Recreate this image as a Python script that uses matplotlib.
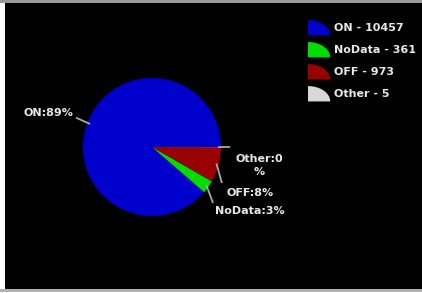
import numpy as np
import matplotlib
matplotlib.use("Agg")
import matplotlib.pyplot as plt
import matplotlib.patches as mpatches
from matplotlib.legend_handler import HandlerPatch

# ---- data ----
categories = ["ON", "NoData", "OFF", "Other"]
counts = [10457, 361, 973, 5]
colors = ["#0000CC", "#00DD00", "#990000", "#D8D8D8"]

# ---- layout (data coords of pie, radius 1) ----
line_ends = [(-1.09, 0.42), (0.88, -0.80), (1.01, -0.51), (1.12, 0.0)]
text_pos = [(-1.50, 0.49), (1.42, -0.93), (1.42, -0.67), (1.55, -0.27)]

W, H = 422, 293
fig = plt.figure(figsize=(W / 100, H / 100), dpi=100, facecolor="white")

# black background panel
bg = fig.add_axes([5 / W, 4 / H, 417 / W, 286 / H])
bg.set_facecolor("black")
bg.set_xticks([]); bg.set_yticks([])
for s in bg.spines.values():
    s.set_visible(False)
# thin gray strips top/bottom
fig.patches.append(mpatches.Rectangle((0, 1 - 3 / H), 1, 3 / H, transform=fig.transFigure,
                                      facecolor="#9a9a9a", edgecolor="none"))
fig.patches.append(mpatches.Rectangle((0, 1 / H), 1, 3 / H, transform=fig.transFigure,
                                      facecolor="#b0b0b0", edgecolor="none"))

# pie axes
cx, cy, r = 152, 147, 69
ax = fig.add_axes([(cx - r) / W, 1 - (cy + r) / H, 2 * r / W, 2 * r / H])
ax.set_facecolor("none")
wedges, _ = ax.pie(counts, colors=colors, startangle=0, counterclock=True,
                   wedgeprops=dict(linewidth=0))
ax.set_xlim(-1, 1); ax.set_ylim(-1, 1)
ax.set_aspect("equal")
ax.axis("off")

total = sum(counts)
for i, w in enumerate(wedges):
    mid = np.deg2rad((w.theta1 + w.theta2) / 2)
    x0, y0 = 0.97 * np.cos(mid), 0.97 * np.sin(mid)
    xe, ye = line_ends[i]
    ax.plot([x0, xe], [y0, ye], color="#A8A8A8", lw=1.3, clip_on=False)
    pct = round(100 * counts[i] / total)
    lab = f"{categories[i]}:{pct}%"
    if categories[i] == "Other":
        lab = f"{categories[i]}:{pct}\n%"
    tx, ty = text_pos[i]
    ax.text(tx, ty, lab, color="#E8E8E8", fontsize=8, fontweight="bold",
            ha="center", va="center", clip_on=False, linespacing=1.4)


class QuarterHandler(HandlerPatch):
    def create_artists(self, legend, orig_handle, xdescent, ydescent, width, height,
                       fontsize, trans):
        t = np.linspace(0, np.pi / 2, 30)
        x0, y0 = -xdescent, -ydescent
        pts = [(x0, y0)] + [(x0 + width * np.cos(a), y0 + height * np.sin(a)) for a in t]
        p = mpatches.Polygon(pts, closed=True, facecolor=orig_handle.get_facecolor(),
                             edgecolor="none", transform=trans)
        return [p]


handles = [mpatches.Patch(facecolor=c) for c in colors]
labels = [f"{c} - {v}" for c, v in zip(categories, counts)]
leg = fig.legend(handles, labels, loc="upper left",
                 bbox_to_anchor=(308 / W, 1 - 20 / H), bbox_transform=fig.transFigure,
                 frameon=False, borderpad=0, borderaxespad=0,
                 handlelength=2.0, handleheight=1.75, labelspacing=0.6, handletextpad=0.35,
                 handler_map={mpatches.Patch: QuarterHandler()},
                 prop=dict(weight="bold", size=8))
for t in leg.get_texts():
    t.set_color("#E8E8E8")

fig.savefig("out.png", dpi=100, facecolor=fig.get_facecolor())
